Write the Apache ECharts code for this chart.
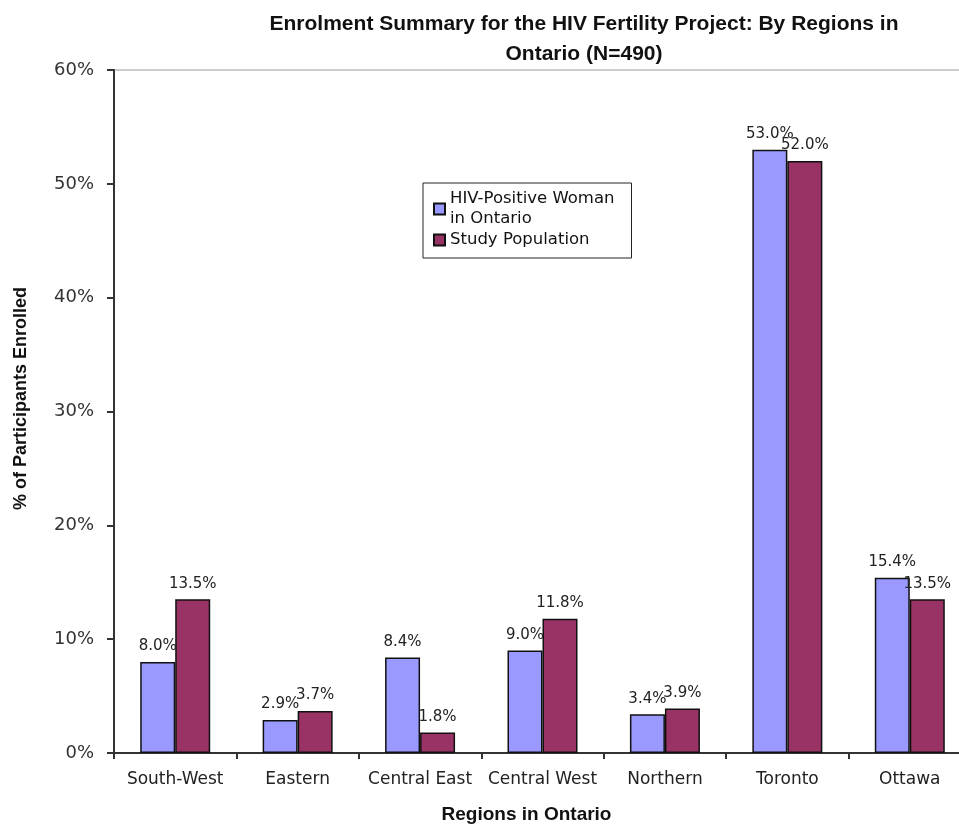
<!DOCTYPE html>
<html>
<head>
<meta charset="utf-8">
<script src="https://cdn.jsdelivr.net/npm/echarts@6/dist/echarts.min.js"></script>
<style>
html,body{margin:0;padding:0;background:#fff;}
#chart{width:959px;height:826px;}
</style>
</head>
<body>
<div id="chart"></div>
<script>
var categories = ['South-West', 'Eastern', 'Central East', 'Central West', 'Northern', 'Toronto', 'Ottawa'];
var hivPositiveWomen = [8.0, 2.9, 8.4, 9.0, 3.4, 53.0, 15.4];
var studyPopulation = [13.5, 3.7, 1.8, 11.8, 3.9, 52.0, 13.5];
var yTicks = [0, 10, 20, 30, 40, 50, 60];
var seriesNames = ['HIV-Positive Woman\nin Ontario', 'Study Population'];

var FONT = '"Liberation Sans", Arial, sans-serif';
var WIDE = '"DejaVu Sans", sans-serif';
var chart = echarts.init(document.getElementById('chart'), null, {renderer: 'canvas'});

function labelCfg() {
  return {
    show: true,
    position: 'top',
    distance: 8,
    color: '#222',
    fontFamily: WIDE,
    fontSize: 15,
    formatter: function (p) { return p.value.toFixed(1) + '%'; }
  };
}

chart.setOption({
  backgroundColor: '#fff',
  animation: false,
  title: {
    text: 'Enrolment Summary for the HIV Fertility Project: By Regions in\nOntario (N=490)',
    left: 579,
    textAlign: 'center',
    top: 4,
    textStyle: {fontFamily: FONT, fontWeight: 'bold', fontSize: 21, color: '#111', lineHeight: 30}
  },
  legend: {
    orient: 'vertical',
    left: 423,
    top: 183,
    backgroundColor: '#fff',
    borderColor: '#222',
    borderWidth: 1,
    borderRadius: 0,
    padding: [6, 17, 8, 10],
    itemGap: 1,
    itemWidth: 11,
    itemHeight: 11,
    icon: 'rect',
    textStyle: {fontFamily: WIDE, fontSize: 16.5, color: '#111', lineHeight: 20},
    data: seriesNames
  },
  grid: {
    left: 114,
    right: -12,
    top: 70,
    bottom: 73,
    containLabel: false,
    outerBoundsMode: 'none',
    show: true,
    borderColor: '#999',
    borderWidth: 1
  },
  xAxis: {
    type: 'category',
    data: categories,
    name: 'Regions in Ontario',
    nameLocation: 'middle',
    nameGap: 52,
    nameTextStyle: {fontFamily: FONT, fontWeight: 'bold', fontSize: 19, color: '#111', padding: [0, 32, 0, 0]},
    axisLine: {lineStyle: {color: '#333', width: 2}},
    axisTick: {show: true, length: 6, lineStyle: {color: '#333', width: 2}},
    axisLabel: {fontFamily: WIDE, fontSize: 17, color: '#222', margin: 18, interval: 0}
  },
  yAxis: {
    type: 'value',
    min: yTicks[0],
    max: yTicks[yTicks.length - 1],
    interval: 10,
    name: '% of Participants Enrolled',
    nameLocation: 'middle',
    nameGap: 84,
    nameTextStyle: {fontFamily: FONT, fontWeight: 'bold', fontSize: 18, color: '#111', padding: [0, 0, 0, 26]},
    axisLine: {show: true, lineStyle: {color: '#333', width: 2}},
    axisTick: {show: true, length: 7, lineStyle: {color: '#333', width: 2}},
    splitLine: {show: false},
    axisLabel: {fontFamily: WIDE, fontSize: 18, color: '#333', margin: 20, formatter: '{value}%'}
  },
  series: [
    {
      name: seriesNames[0],
      type: 'bar',
      data: hivPositiveWomen,
      barWidth: 35,
      barGap: '0%',
      itemStyle: {color: '#9999FF', borderColor: '#111', borderWidth: 1.5},
      label: labelCfg()
    },
    {
      name: seriesNames[1],
      type: 'bar',
      data: studyPopulation,
      barWidth: 35,
      barGap: '0%',
      itemStyle: {color: '#993366', borderColor: '#111', borderWidth: 1.5},
      label: labelCfg()
    }
  ]
});
</script>
</body>
</html>
